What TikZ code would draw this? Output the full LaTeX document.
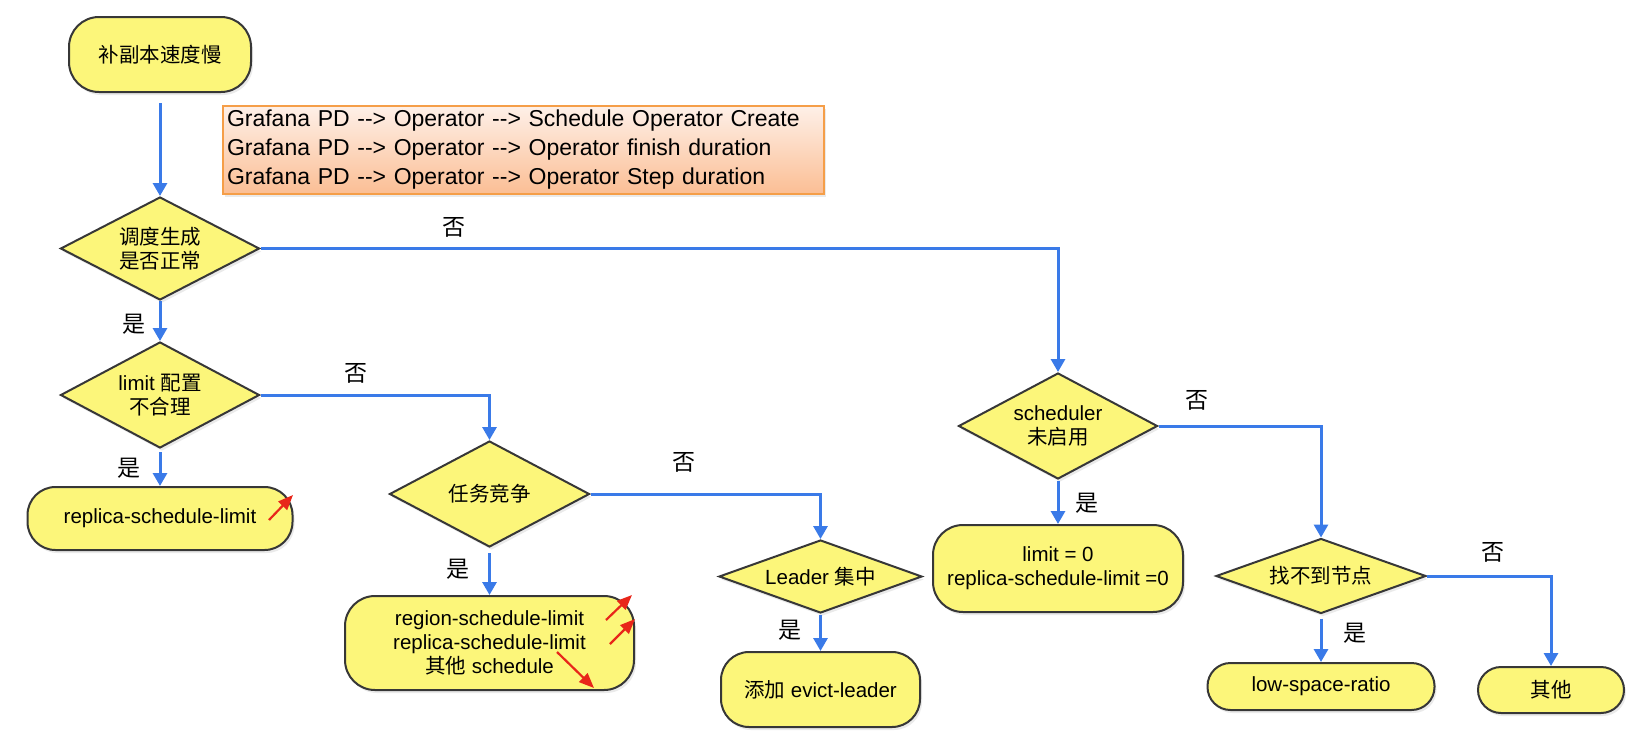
\documentclass[tikz,border=0pt]{standalone}
\usepackage{fontspec}
\setmainfont{Liberation Sans}
\newfontfamily\cjk{Noto Sans CJK SC}
\usetikzlibrary{shapes.geometric,arrows.meta,shadows}

\definecolor{nodeyellow}{RGB}{252,246,122}
\definecolor{nodeborder}{RGB}{55,55,55}
\definecolor{flowblue}{RGB}{58,122,232}
\definecolor{notered}{RGB}{232,38,26}
\definecolor{boxtop}{RGB}{254,240,232}
\definecolor{boxbot}{RGB}{251,190,148}
\definecolor{boxborder}{RGB}{245,158,72}

\newcommand{\arr}{-{}-{}>}

\begin{document}
\begin{tikzpicture}[x=1pt,y=-1pt,
  nodebase/.style={draw=nodeborder, line width=2pt, fill=nodeyellow,
    font=\fontsize{20.5}{24}\selectfont, align=center, inner sep=0pt,
    drop shadow={shadow xshift=2pt,shadow yshift=-3pt,opacity=0.16}},
  rbox/.style={nodebase, rectangle, rounded corners=#1},
  rbox/.default=30pt,
  dia/.style={nodebase, diamond, aspect=#1},
  flow/.style={draw=flowblue, line width=3pt, -{Triangle[width=14pt,length=13pt]}},
  lab/.style={font=\fontsize{23}{25}\selectfont\cjk, inner sep=0pt},
  redarrow/.style={draw=notered, line width=2.2pt, -{Triangle[width=12pt,length=15pt]}},
  obox/.style={draw=boxborder, line width=1.5pt, top color=boxtop, bottom color=boxbot,
    drop shadow={shadow xshift=2pt,shadow yshift=-3pt,opacity=0.16},
    font=\fontsize{23}{29}\selectfont, align=left, inner xsep=4pt, inner ysep=0pt}
]
\fill[white] (0,0) rectangle (1629,731);
\useasboundingbox (0,0) rectangle (1629,731);

% nodes
\node[rbox, minimum width=182pt, minimum height=75pt] (start) at (160,54.5) {\cjk 补副本速度慢};
\node[obox, minimum width=601pt, minimum height=88pt, text width=593pt] (note) at (523.5,150)
  {Grafana PD \arr{} Operator \arr{} Schedule Operator Create\\
   Grafana PD \arr{} Operator \arr{} Operator finish duration\\
   Grafana PD \arr{} Operator \arr{} Operator Step duration};

\node[dia=1.93, minimum width=199pt, minimum height=103pt] (d1) at (160,248.5) {\cjk 调度生成\\\cjk 是否正常};
\node[dia=1.88, minimum width=199pt, minimum height=106pt] (d2) at (160,395) {limit {\cjk 配置}\\\cjk 不合理};
\node[rbox=28pt, minimum width=265pt, minimum height=63pt] (b1) at (160,518.5) {replica-schedule-limit};

\node[dia=1.89, minimum width=200pt, minimum height=106pt] (d3) at (489.5,494) {\cjk 任务竞争};
\node[rbox, minimum width=289pt, minimum height=94pt] (b2) at (489.5,643)
  {region-schedule-limit\\replica-schedule-limit\\{\cjk 其他} schedule};

\node[dia=2.78, minimum width=203pt, minimum height=73pt] (d4) at (820.5,576.5) {Leader {\cjk 集中}};
\node[rbox=28pt, minimum width=199pt, minimum height=75pt] (b3) at (820.5,689.5) {{\cjk 添加} evict-leader};

\node[dia=1.88, minimum width=199pt, minimum height=106pt] (d5) at (1058,426) {scheduler\\\cjk 未启用};
\node[rbox, minimum width=250pt, minimum height=87pt] (b4) at (1058,568.5) {limit = 0\\replica-schedule-limit =0};

\node[dia=2.8, minimum width=210pt, minimum height=75pt] (d6) at (1321,576) {\cjk 找不到节点};
\node[rbox=23pt, minimum width=227pt, minimum height=47pt] (b5) at (1321,686.5) {low-space-ratio};
\node[rbox=23pt, minimum width=146pt, minimum height=46pt] (b6) at (1551,690) {\cjk 其他};

% connectors
\draw[flow, shorten <=10pt] (start.south) -- (d1.north);
\draw[flow] (d1.east) -| (d5.north);
\draw[flow] (d1.south) -- (d2.north);
\draw[flow] (d2.east) -| (d3.north);
\draw[flow, shorten <=3pt] (d2.south) -- (b1.north);
\draw[flow, shorten <=5pt] (d3.south) -- (b2.north);
\draw[flow] (d3.east) -| (d4.north);
\draw[flow, shorten <=1pt] (d4.south) -- (b3.north);
\draw[flow, shorten <=1pt] (d5.south) -- (b4.north);
\draw[flow] (d5.east) -| (d6.north);
\draw[flow, shorten <=4pt] (d6.south) -- (b5.north);
\draw[flow] (d6.east) -| (b6.north);

% labels
\node[lab] (l1) at (454,227) {否};
\node[lab] (l2) at (134,324) {是};
\node[lab] (l3) at (356,373) {否};
\node[lab] (l4) at (129,468) {是};
\node[lab] (l5) at (684,462) {否};
\node[lab] (l6) at (458,569) {是};
\node[lab] (l7) at (790,630) {是};
\node[lab] (l8) at (1197,400) {否};
\node[lab] (l9) at (1087,503) {是};
\node[lab] (l10) at (1493,552) {否};
\node[lab] (l11) at (1355,633) {是};

% red annotation arrows
\coordinate (r1a) at (269,520); \coordinate (r1b) at (293,495);
\coordinate (r2a) at (606,620); \coordinate (r2b) at (632,595);
\coordinate (r3a) at (610,644); \coordinate (r3b) at (635,619);
\coordinate (r4a) at (557,652); \coordinate (r4b) at (594,688);
\draw[redarrow] (r1a) -- (r1b);
\draw[redarrow] (r2a) -- (r2b);
\draw[redarrow] (r3a) -- (r3b);
\draw[redarrow] (r4a) -- (r4b);
\end{tikzpicture}
\end{document}
